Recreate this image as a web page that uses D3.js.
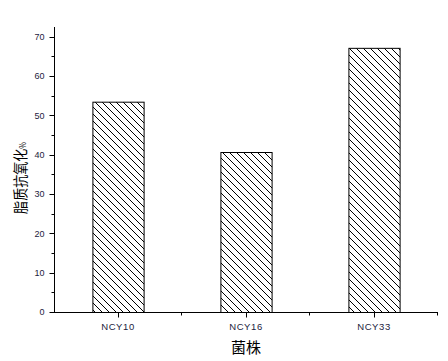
<!DOCTYPE html>
<html>
<head>
<meta charset="utf-8">
<script src="https://cdn.jsdelivr.net/npm/d3@7"></script>
<style>
  html, body { margin: 0; padding: 0; background: #fff; }
  svg { display: block; }
</style>
</head>
<body>
<div id="chart"></div>
<script>
// ── Data ─────────────────────────────────────────────────────
const strains  = ['NCY10', 'NCY16', 'NCY33'];
const values   = [53.5, 40.7, 67.2];
const yTicks   = [0, 10, 20, 30, 40, 50, 60, 70];
const yMinor   = [5, 15, 25, 35, 45, 55, 65];

const W = 448, H = 361;
const FONT = 'Arial, "Liberation Sans", sans-serif';
const CJK  = '"Noto Sans CJK SC", sans-serif';

const svg = d3.select('#chart').append('svg')
  .attr('width', W).attr('height', H);

// ── Hatch pattern (\\\) ──────────────────────────────────────
svg.append('defs').append('pattern')
  .attr('id', 'hatch')
  .attr('patternUnits', 'userSpaceOnUse')
  .attr('width', 7).attr('height', 7)
  .append('path')
  .attr('d', 'M-1,-1L8,8M-1,6L1,8M6,-1L8,1')
  .attr('stroke', '#000')
  .attr('stroke-width', 1);

// ── Scales ───────────────────────────────────────────────────
const x = d3.scaleBand().domain(strains).range([54, 438]);
const y = d3.scaleLinear().domain([0, 72.5]).range([312, 27]);
const barW = x.bandwidth() * 0.4;

// ── Bars ─────────────────────────────────────────────────────
svg.append('g').selectAll('rect')
  .data(strains)
  .join('rect')
  .attr('x', d => x(d) + (x.bandwidth() - barW) / 2 + 0.5)
  .attr('y', (d, i) => y(values[i]) + 0.5)
  .attr('width', barW)
  .attr('height', (d, i) => y(0) - y(values[i]))
  .attr('fill', 'url(#hatch)')
  .attr('stroke', '#000')
  .attr('stroke-width', 1);

// ── Y axis ───────────────────────────────────────────────────
const yAxis = svg.append('g').attr('transform', 'translate(54.5,0)');
yAxis.append('line')
  .attr('y1', y(72.5)).attr('y2', y(0) + 0.5)
  .attr('stroke', '#000');
yAxis.selectAll('.maj').data(yTicks).join('line')
  .attr('x1', -5).attr('x2', 0)
  .attr('y1', d => Math.round(y(d)) + 0.5).attr('y2', d => Math.round(y(d)) + 0.5)
  .attr('stroke', '#000');
yAxis.selectAll('.min').data(yMinor).join('line')
  .attr('x1', -3).attr('x2', 0)
  .attr('y1', d => Math.round(y(d)) + 0.5).attr('y2', d => Math.round(y(d)) + 0.5)
  .attr('stroke', '#000');
yAxis.selectAll('text').data(yTicks).join('text')
  .attr('x', -10).attr('y', d => y(d))
  .attr('dy', '0.35em')
  .attr('text-anchor', 'end')
  .attr('font-family', FONT).attr('font-size', 9)
  .attr('fill', '#1c1c40')
  .text(d => d);

// ── X axis ───────────────────────────────────────────────────
const xAxis = svg.append('g').attr('transform', `translate(0,${Math.round(y(0)) + 0.5})`);
xAxis.append('line')
  .attr('x1', 51).attr('x2', 438)
  .attr('stroke', '#000');
xAxis.selectAll('.maj').data(strains).join('line')
  .attr('x1', d => Math.round(x(d) + x.bandwidth() / 2) + 0.5)
  .attr('x2', d => Math.round(x(d) + x.bandwidth() / 2) + 0.5)
  .attr('y1', 0).attr('y2', 5)
  .attr('stroke', '#000');
xAxis.selectAll('.min').data(strains).join('line')
  .attr('x1', d => Math.round(x(d) + x.bandwidth()) - 0.5)
  .attr('x2', d => Math.round(x(d) + x.bandwidth()) - 0.5)
  .attr('y1', 0).attr('y2', 3)
  .attr('stroke', '#000');
xAxis.selectAll('text').data(strains).join('text')
  .attr('x', d => x(d) + x.bandwidth() / 2)
  .attr('y', 17)
  .attr('text-anchor', 'middle')
  .attr('font-family', FONT).attr('font-size', 9.5)
  .attr('letter-spacing', 0.6)
  .attr('fill', '#1c1c40')
  .text(d => d);

// ── Axis titles ──────────────────────────────────────────────
svg.append('text')
  .attr('x', 246).attr('y', 353)
  .attr('text-anchor', 'middle')
  .attr('font-family', CJK).attr('font-size', 15)
  .attr('fill', '#000')
  .text('菌株');

// condensed look of the original title: tall glyphs, narrow advance
const yTitle = svg.append('text')
  .attr('transform', 'translate(26,178) rotate(-90) scale(0.9,1.05)')
  .attr('text-anchor', 'middle')
  .attr('font-family', CJK).attr('font-size', 14.5)
  .attr('fill', '#000');
yTitle.append('tspan').text('脂质抗氧化');
yTitle.append('tspan').attr('font-size', 8).text('%');
</script>
</body>
</html>
